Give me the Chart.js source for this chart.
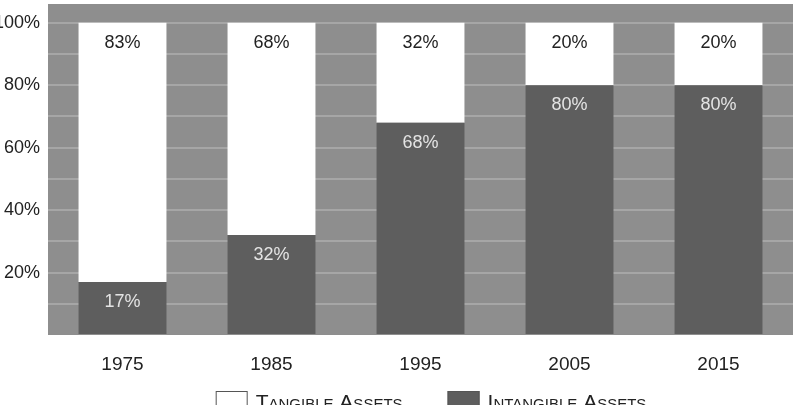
<!DOCTYPE html>
<html>
<head>
<meta charset="utf-8">
<script src="https://cdn.jsdelivr.net/npm/chart.js@4.4.1/dist/chart.umd.min.js"></script>
<style>
  html, body { margin: 0; padding: 0; background: #fff; }
  #assets-chart { display: block; }
</style>
</head>
<body>
<canvas id="assets-chart" width="800" height="405"></canvas>
<script>
const years = ['1975', '1985', '1995', '2005', '2015'];
const intangibleValues = [17, 32, 68, 80, 80];
const tangibleValues = [83, 68, 32, 20, 20];
const yTickLabels = [20, 40, 60, 80, 100];
const gridValues = [0, 10, 20, 30, 40, 50, 60, 70, 80, 90, 100];
const seriesNames = ['Tangible Assets', 'Intangible Assets'];

const FONT = "'Liberation Sans', Arial, sans-serif";

// grey panel behind the bars
const panelBackground = {
    id: 'panelBackground',
    beforeDraw(chart) {
        const {ctx, chartArea: a} = chart;
        ctx.save();
        ctx.fillStyle = '#8e8e8e';
        ctx.fillRect(a.left, a.top, a.right - a.left, a.bottom - a.top);
        ctx.restore();
    }
};

// percentage written just under the top of each segment
const segmentLabels = {
    id: 'segmentLabels',
    afterDatasetsDraw(chart) {
        const {ctx} = chart;
        ctx.save();
        ctx.font = '18px ' + FONT;
        ctx.textAlign = 'center';
        ctx.textBaseline = 'middle';
        chart.data.datasets.forEach((ds, i) => {
            const meta = chart.getDatasetMeta(i);
            meta.data.forEach((bar, j) => {
                ctx.fillStyle = ds.labelColor;
                ctx.fillText(ds.data[j] + '%', bar.x, bar.y + 20);
            });
        });
        ctx.restore();
    }
};

// legend at the bottom, small caps like the original
const capsLegend = {
    id: 'capsLegend',
    afterDraw(chart) {
        const {ctx} = chart;
        ctx.save();
        ctx.font = 'small-caps 21px ' + FONT;
        ctx.textBaseline = 'alphabetic';
        const items = [chart.data.datasets[1], chart.data.datasets[0]];
        const boxW = 32, boxH = 20, gap = 8, spacing = 45;
        const widths = items.map(ds => boxW + gap + ctx.measureText(ds.label).width);
        const total = widths.reduce((s, w) => s + w, 0) + spacing;
        let x = 431 - total / 2;
        items.forEach((ds, i) => {
            ctx.fillStyle = ds.backgroundColor;
            ctx.fillRect(x, 391, boxW, boxH);
            ctx.strokeStyle = '#555';
            ctx.lineWidth = 1;
            ctx.strokeRect(x + 0.5, 391.5, boxW - 1, boxH);
            ctx.fillStyle = '#222';
            ctx.fillText(ds.label, x + boxW + gap, 409);
            x += widths[i] + spacing;
        });
        ctx.restore();
    }
};

new Chart(document.getElementById('assets-chart'), {
    type: 'bar',
    data: {
        labels: years,
        datasets: [
            {
                label: seriesNames[1],
                data: intangibleValues,
                backgroundColor: '#5e5e5e',
                labelColor: '#e4e4e4'
            },
            {
                label: seriesNames[0],
                data: tangibleValues,
                backgroundColor: '#ffffff',
                labelColor: '#222222'
            }
        ]
    },
    options: {
        responsive: false,
        animation: false,
        barPercentage: 0.59,
        categoryPercentage: 1,
        layout: {
            padding: { top: 4, right: 7, bottom: 0, left: 0 }
        },
        scales: {
            x: {
                stacked: true,
                grid: { display: false },
                border: { display: false },
                ticks: {
                    color: '#222',
                    padding: 10,
                    font: { family: FONT, size: 19 }
                },
                afterFit(scale) { scale.height = 70; }
            },
            y: {
                stacked: true,
                min: 0,
                max: 106,
                border: { display: false },
                grid: {
                    drawTicks: false,
                    lineWidth: 2,
                    color: ctx => {
                        const v = ctx.tick && ctx.tick.value;
                        return (v > 0 && v <= 100) ? '#a6a6a6' : 'rgba(0,0,0,0)';
                    }
                },
                ticks: {
                    autoSkip: false,
                    padding: 8,
                    color: '#222',
                    font: { family: FONT, size: 18 },
                    callback: v => yTickLabels.includes(v) ? v + '%' : ''
                },
                afterBuildTicks(scale) {
                    scale.ticks = gridValues.map(v => ({value: v}));
                },
                afterFit(scale) {
                    scale.width = 48;
                    scale.paddingTop = 0;
                    scale.paddingBottom = 0;
                }
            }
        },
        plugins: {
            legend: { display: false },
            tooltip: { enabled: false }
        }
    },
    plugins: [panelBackground, segmentLabels, capsLegend]
});
</script>
</body>
</html>
